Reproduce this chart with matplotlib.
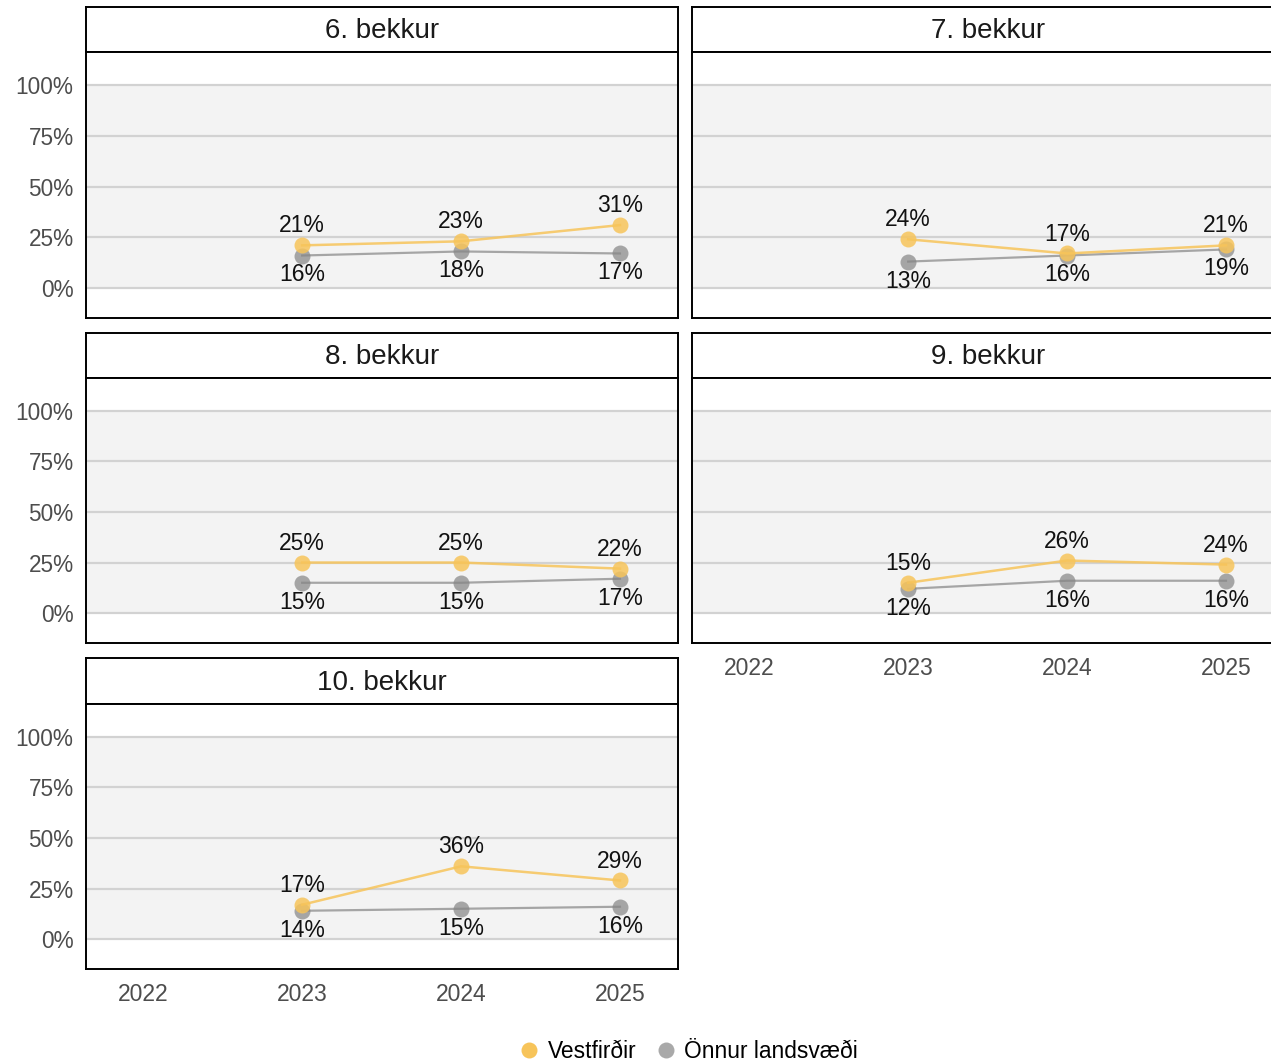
import matplotlib
matplotlib.use("Agg")
import matplotlib.pyplot as plt
from matplotlib.lines import Line2D

plt.rcParams['font.family'] = ['Liberation Sans', 'DejaVu Sans']

years = [2023, 2024, 2025]
year_ticks = [2022, 2023, 2024, 2025]
grades = ['6. bekkur', '7. bekkur', '8. bekkur', '9. bekkur', '10. bekkur']
vestfirdir = [[21, 23, 31], [24, 17, 21], [25, 25, 22], [15, 26, 24], [17, 36, 29]]
onnur = [[16, 18, 17], [13, 16, 19], [15, 15, 17], [12, 16, 16], [14, 15, 16]]
y_ticks = [0, 25, 50, 75, 100]
y_labels = ['0%', '25%', '50%', '75%', '100%']

YELLOW = '#f7c45a'
GREY = '#858585'
W, H = 1271, 1064

fig = plt.figure(figsize=(W / 100, H / 100), dpi=100)


def px_axes(x0, y0, x1, y1):
    # pixel box (top-left origin) -> figure axes
    return fig.add_axes([x0 / W, 1 - y1 / H, (x1 - x0) / W, (y1 - y0) / H])


cols = [(86, 678), (692, 1284)]
rows = [(7, 52, 318), (333, 378, 643), (658, 704, 969)]

for i, name in enumerate(grades):
    r, c = divmod(i, 2)
    x0, x1 = cols[c]
    st, pt, pb = rows[r]

    # strip
    sax = px_axes(x0, st, x1, pt)
    sax.set_xticks([])
    sax.set_yticks([])
    for s in sax.spines.values():
        s.set_linewidth(1.4)
        s.set_color('black')
    sax.text(0.5, 0.46, name, ha='center', va='center', fontsize=20, color='#1a1a1a',
             transform=sax.transAxes)

    ax = px_axes(x0, pt, x1, pb)
    ax.set_xlim(2021.64, 2025.365)
    ax.set_ylim(-14.8, 116.3)
    ax.axhspan(0, 100, color='#f3f3f3', zorder=0, lw=0)
    for yv in y_ticks:
        ax.axhline(yv, color='#d2d2d2', lw=1.6, zorder=1)
    for s in ax.spines.values():
        s.set_linewidth(1.4)
        s.set_color('black')

    v = vestfirdir[i]
    o = onnur[i]
    ax.plot(years, o, color=GREY, lw=1.6, marker='o', ms=11.5, mec='none', zorder=3, alpha=0.7)
    ax.plot(years, v, color=YELLOW, lw=1.8, marker='o', ms=11.5, mec='none', zorder=4, alpha=0.85)
    for x, a, b in zip(years, v, o):
        ax.annotate(f'{a}%', (x, a), xytext=(0, 14), textcoords='offset points',
                    ha='center', va='center', fontsize=16.5, color='#111111', zorder=5)
        ax.annotate(f'{b}%', (x, b), xytext=(0, -14), textcoords='offset points',
                    ha='center', va='center', fontsize=16.5, color='#111111', zorder=5)

    ax.set_yticks(y_ticks)
    if c == 0:
        ax.set_yticklabels(y_labels, fontsize=16.3, color='#4d4d4d')
    else:
        ax.set_yticklabels([])
    ax.set_xticks(year_ticks)
    bottom = (r == 2) or (r == 1 and c == 1)
    if bottom:
        ax.set_xticklabels([str(y) for y in year_ticks], fontsize=16.5, color='#4d4d4d')
    else:
        ax.set_xticklabels([])
    ax.tick_params(axis='both', length=0)
    ax.tick_params(axis='y', pad=9)
    ax.tick_params(axis='x', pad=10)

handles = [
    Line2D([], [], ls='none', marker='o', ms=11.5, color=YELLOW, mec='none', label='Vestfirðir'),
    Line2D([], [], ls='none', marker='o', ms=11.5, color=GREY, mec='none', alpha=0.7, label='Önnur landsvæði'),
]
fig.legend(handles=handles, loc='center', bbox_to_anchor=(688 / W, 1 - 1051 / H), ncol=2,
           frameon=False, fontsize=16.4, handletextpad=0.3, columnspacing=0.8,
           handlelength=1.0, borderaxespad=0)

fig.savefig('out.png', dpi=100)
